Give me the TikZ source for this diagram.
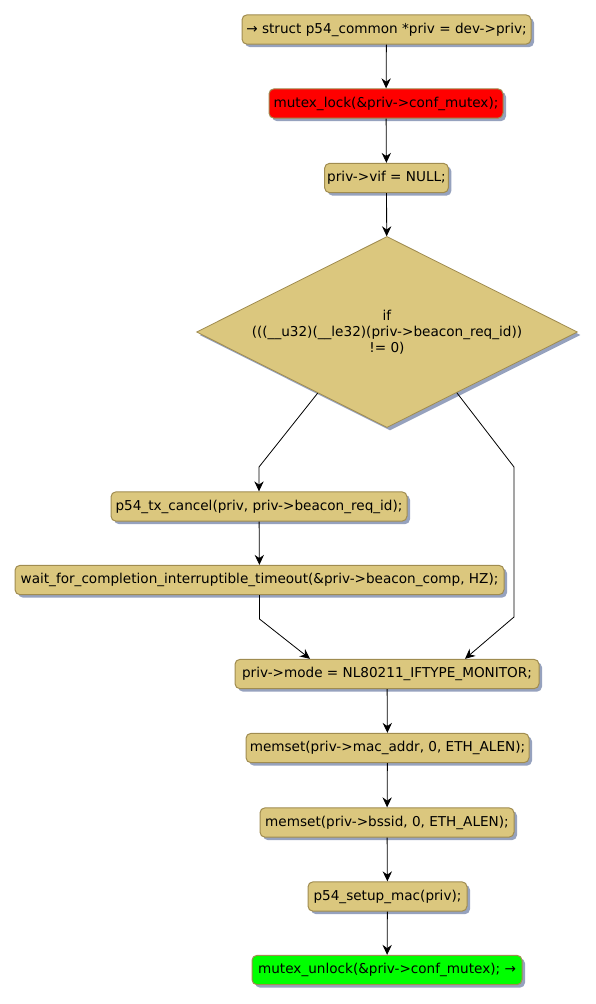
\documentclass[tikz,border=0pt]{standalone}
\usepackage{fontspec}
\setmainfont{DejaVu Sans}
\usetikzlibrary{arrows.meta,shapes.geometric,shadows,calc}
\definecolor{actfill}{RGB}{219,199,126}
\definecolor{actborder}{RGB}{160,140,80}
\definecolor{shcol}{RGB}{150,162,190}
\definecolor{redfill}{RGB}{255,0,0}
\definecolor{greenfill}{RGB}{0,255,0}
\tikzset{
  act/.style={draw=actborder, fill=actfill, line width=0.75pt, rounded corners=3.75pt,
    minimum height=22pt, inner sep=2pt, font=\fontsize{10.2}{12.2}\selectfont,
    drop shadow={shadow xshift=2.25pt, shadow yshift=-2.25pt, fill=shcol, opacity=1}},
  cond/.style={shape=diamond, aspect=2, draw=actborder, fill=actfill, line width=0.6pt,
    inner sep=0pt, align=center, font=\fontsize{10.2}{12.2}\selectfont,
    drop shadow={shadow xshift=2.25pt, shadow yshift=-2.25pt, fill=shcol, opacity=1}},
  flow/.style={draw=black, line width=0.6pt, -{Stealth[length=7.5pt,width=7pt,inset=2.5pt]}},
  line/.style={draw=black, line width=0.6pt}
}
\begin{document}
\begin{tikzpicture}[x=0.75pt,y=-0.75pt]
\useasboundingbox (0,0) rectangle (596,1004);
\node[act, minimum width=216.75pt] (n1) at (386.5,29.5) {→ struct p54\_common *priv = dev->priv;};
\node[act, fill=redfill, minimum width=175.5pt] (n2) at (386,103.5) {mutex\_lock(\&priv->conf\_mutex);};
\node[act, minimum width=92.25pt] (n3) at (386.5,178) {priv->vif = NULL;};
\node[cond, minimum width=285.75pt, minimum height=143.25pt] (d) at (387,332) {if\\(((\_\_u32)(\_\_le32)(priv->beacon\_req\_id))\\!= 0)};
\node[act, minimum width=222pt] (n5) at (259,506.5) {p54\_tx\_cancel(priv, priv->beacon\_req\_id);};
\node[act, minimum width=366.75pt] (n6) at (259.5,580) {wait\_for\_completion\_interruptible\_timeout(\&priv->beacon\_comp, HZ);};
\node[act, minimum width=228pt] (n7) at (387,674) {priv->mode = NL80211\_IFTYPE\_MONITOR;};
\node[act, minimum width=212.25pt] (n8) at (387.5,748) {memset(priv->mac\_addr, 0, ETH\_ALEN);};
\node[act, minimum width=190.5pt] (n9) at (387,822.5) {memset(priv->bssid, 0, ETH\_ALEN);};
\node[act, minimum width=119.25pt] (n10) at (387.5,896.5) {p54\_setup\_mac(priv);};
\node[act, fill=greenfill, minimum width=202.5pt] (n11) at (387,970) {mutex\_unlock(\&priv->conf\_mutex); →};

\coordinate (dl) at ($(d.west)!0.637!(d.south)$);
\coordinate (dr) at ($(d.east)!0.634!(d.south)$);
\coordinate (kl) at (259,467);
\coordinate (kr1) at (514,467);
\coordinate (kr2) at (514,617);
\coordinate (kj) at (259.5,619);
\coordinate (t7l) at ($(n7.north)+(-77,0)$);
\coordinate (t7r) at ($(n7.north)+(78,0)$);

\draw[flow] (n1) -- (n2);
\draw[flow] (n2) -- (n3);
\draw[flow] (n3) -- (d);
\draw[flow] (dl) -- (kl) -- (n5);
\draw[flow] (n5) -- (n6);
\draw[flow] (n6.south) -- (kj) -- (t7l);
\draw[flow] (dr) -- (kr1) -- (kr2) -- (t7r);
\draw[flow] (n7) -- (n8);
\draw[flow] (n8) -- (n9);
\draw[flow] (n9) -- (n10);
\draw[flow] (n10) -- (n11);
\end{tikzpicture}
\end{document}
